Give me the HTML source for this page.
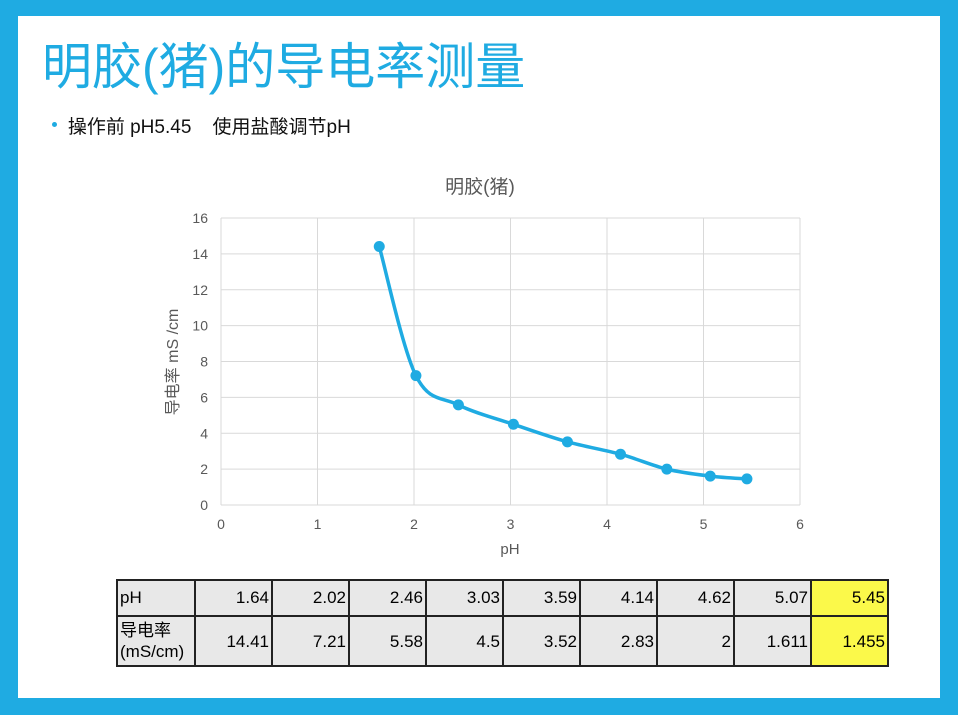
<!DOCTYPE html>
<html><head><meta charset="utf-8"><style>
body{margin:0;width:958px;height:715px;background:#1fabe2;position:relative;overflow:hidden;font-family:"Liberation Sans","Noto Sans CJK SC",sans-serif}
#slide{position:absolute;left:18px;top:16px;width:922px;height:682px;background:#fff}
#title{position:absolute;left:42px;top:34px;font-size:50px;color:#1fabe2;white-space:nowrap;line-height:66px}
#bullet{position:absolute;left:52px;top:112px;font-size:19px;color:#111;white-space:pre}
#bullet:before{content:"";position:absolute;left:0;top:10px;width:5px;height:5px;border-radius:50%;background:#1fabe2}
table{position:absolute;left:116px;top:579px;border-collapse:collapse;font-size:17px}
td{border:2px solid #222;background:#e8e8e8;text-align:right;padding:0 2px;width:71px;vertical-align:middle}
td.h{text-align:left;width:72px}
td.y{background:#fbf94a}
tr.r1 td{height:34px}tr.r2 td{height:48px;line-height:21px}
</style></head><body>
<div id="slide"></div>
<div id="title">明胶(猪)的导电率测量</div>
<div id="bullet">   操作前 pH5.45    使用盐酸调节pH</div>
<svg id="chart" width="958" height="715" style="position:absolute;left:0;top:0"></svg>
<table>
<tr class="r1"><td class="h">pH</td><td>1.64</td><td>2.02</td><td>2.46</td><td>3.03</td><td>3.59</td><td>4.14</td><td>4.62</td><td>5.07</td><td class="y">5.45</td></tr>
<tr class="r2"><td class="h">导电率<br>(mS/cm)</td><td>14.41</td><td>7.21</td><td>5.58</td><td>4.5</td><td>3.52</td><td>2.83</td><td>2</td><td>1.611</td><td class="y">1.455</td></tr>
</table>
<script>
const phValues=[1.64,2.02,2.46,3.03,3.59,4.14,4.62,5.07,5.45];
const condValues=[14.41,7.21,5.58,4.5,3.52,2.83,2,1.611,1.455];
const xTicks=[0,1,2,3,4,5,6];
const yTicks=[0,2,4,6,8,10,12,14,16];
const svg=document.getElementById('chart');const NS='http://www.w3.org/2000/svg';
const X0=221,X1=800,Y0=505,Y1=218;
const sx=v=>X0+(v-0)/(6-0)*(X1-X0);
const sy=v=>Y0-(v-0)/(16-0)*(Y0-Y1);
function mk(t,a,txt){const e=document.createElementNS(NS,t);for(const k in a)e.setAttribute(k,a[k]);if(txt!=null)e.textContent=txt;svg.appendChild(e);return e;}
yTicks.forEach(v=>{const l=mk('line',{x1:X0,x2:X1,y1:sy(v),y2:sy(v),stroke:'#d9d9d9','stroke-width':1});


const t=mk('text',{x:208,y:sy(v)+5,'text-anchor':'end','font-size':14,fill:'#595959','font-family':'Liberation Sans'},v);

});
xTicks.forEach(v=>{const l=mk('line',{x1:sx(v),x2:sx(v),y1:Y1,y2:Y0,stroke:'#d9d9d9','stroke-width':1});


const t=mk('text',{x:sx(v),y:529,'text-anchor':'middle','font-size':14,fill:'#595959','font-family':'Liberation Sans'},v);

});
const ct=mk('text',{x:480,y:193,'text-anchor':'middle','font-size':19,fill:'#595959'},'明胶(猪)');


const xt=mk('text',{x:510,y:554,'text-anchor':'middle','font-size':15,fill:'#595959'},'pH');


const yt=mk('text',{x:0,y:0,'text-anchor':'middle','font-size':16,fill:'#595959',transform:'translate(178,362) rotate(-90)'},'导电率 mS /cm');


const P=phValues.map((v,i)=>[sx(v),sy(condValues[i])]);
let d='M'+P[0][0]+','+P[0][1];
for(let i=0;i<P.length-1;i++){const p0=P[i-1]||P[i],p1=P[i],p2=P[i+1],p3=P[i+2]||P[i+1];const k=0.5/3;
d+=' C'+(p1[0]+(p2[0]-p0[0])*k)+','+(p1[1]+(p2[1]-p0[1])*k)+' '+(p2[0]-(p3[0]-p1[0])*k)+','+(p2[1]-(p3[1]-p1[1])*k)+' '+p2[0]+','+p2[1];}
const ln=mk('path',{d:d,fill:'none',stroke:'#1fabe2','stroke-width':3.5});


P.forEach(p=>{const c=mk('circle',{cx:p[0],cy:p[1],r:5.5,fill:'#1fabe2'});

});
</script>
</body></html>
